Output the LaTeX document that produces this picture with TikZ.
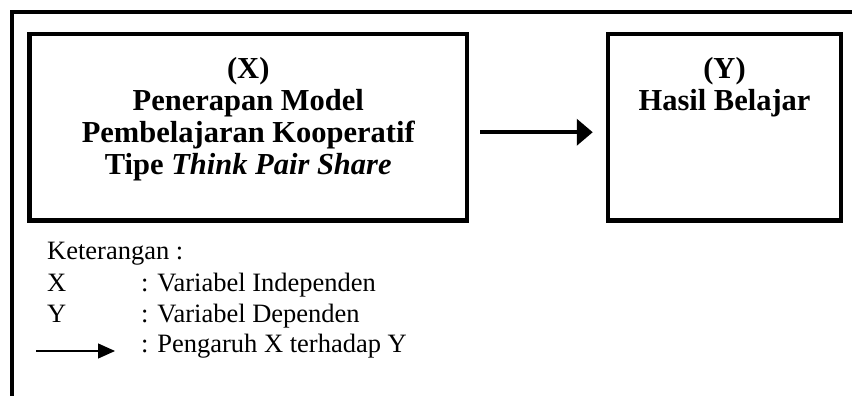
\documentclass[tikz,border=0pt]{standalone}
\usepackage{fontspec}
\setmainfont{Liberation Serif}
\usetikzlibrary{arrows.meta,positioning}

\tikzset{
  kotak/.style={draw,line width=4.5pt,inner sep=0pt},
  judul/.style={font=\fontsize{30.5}{32}\selectfont\bfseries,align=center,inner sep=0pt,anchor=north},
  ket/.style={font=\fontsize{26.5}{31}\selectfont,anchor=base west,inner sep=0pt},
}

\begin{document}
\begin{tikzpicture}[x=1pt,y=-1pt]
\useasboundingbox (0,0) rectangle (852,396);
\draw[line width=4pt] (852,12) -- (12,12) -- (12,396);
\node[kotak,minimum width=437.5pt,minimum height=186.5pt] (varx) at (248.25,127.25) {};
\node[kotak,minimum width=233pt,minimum height=186.5pt] (vary) at (724.5,127.25) {};
\node[judul] (judulx) at ([yshift=-25.5pt]varx.north) {(X)\\Penerapan Model\\Pembelajaran Kooperatif\\Tipe \textit{Think Pair Share}};
\node[judul] (juduly) at ([yshift=-25.5pt]vary.north) {(Y)\\Hasil Belajar};
\draw[line width=4pt,-{Triangle[length=16pt,width=26pt]},shorten <=11pt,shorten >=13pt] ([yshift=-5pt]varx.east) -- ([yshift=-5pt]vary.west);
\node[ket] (ketjudul) at (47,259) {Keterangan :};
\node[ket] (ketx) at (47,291) {X};
\node[ket] (ketxarti) at (141,291) {: Variabel Independen};
\node[ket] (kety) at (47,322) {Y};
\node[ket] (ketyarti) at (141,322) {: Variabel Dependen};
\node[ket] (ketpanah) at (141,352) {: Pengaruh X terhadap Y};
\coordinate (panahawal) at (36,351);
\coordinate (panahakhir) at (115,351);
\draw[line width=1.2pt,-{Triangle[length=17pt,width=15pt]}] (panahawal) -- (panahakhir);
\end{tikzpicture}
\end{document}
